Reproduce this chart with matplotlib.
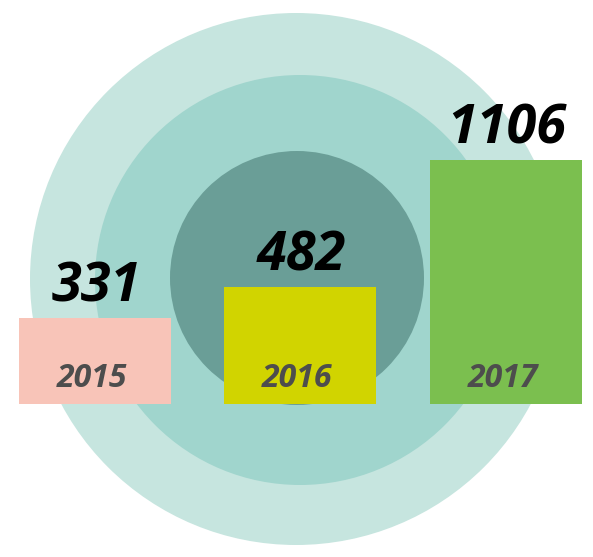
import matplotlib.pyplot as plt
from matplotlib.patches import Circle

years = ['2015', '2016', '2017']
values = [331, 482, 1106]
bar_colors = ['#f8c4b8', '#d1d400', '#7bbf4f']

# background rings (pixel coords)
rings = [(296, 279, 266, '#c6e5df'), (300, 280, 205, '#a0d5cd'), (297, 278, 127, '#6a9e97')]

fig = plt.figure(figsize=(5.93, 5.57), dpi=100)
bg = fig.add_axes([0, 0, 1, 1])
bg.set_xlim(0, 593)
bg.set_ylim(557, 0)
bg.set_aspect('equal')
bg.axis('off')
for cx, cy, r, c in rings:
    bg.add_patch(Circle((cx, cy), r, color=c, lw=0))

# bar axes: baseline at pixel row 404, bars offset below zero
scale = 0.203  # px per unit
base = -94
ax = fig.add_axes([0, (557 - 404) / 557, 1, 404 / 557])
ax.set_xlim(-0.4629, 2.4263)
ax.set_ylim(base, base + 404 / scale)
ax.axis('off')
ax.patch.set_alpha(0)

x = range(len(years))
ax.bar(x, [v - base for v in values], bottom=base, width=0.7406, color=bar_colors, lw=0)

font = dict(family=['Open Sans', 'DejaVu Sans'], weight='bold', style='italic')
for i, (y, v) in enumerate(zip(years, values)):
    ax.annotate(str(v), (i, v), xytext=(1, 12), textcoords='offset points',
                ha='center', va='baseline', fontsize=39, color='black', **font)
    ax.annotate(y, (i, base), xytext=(-2, 12), textcoords='offset points',
                ha='center', va='baseline', fontsize=23, color='#4d4d4d', **font)

fig.savefig('out.png', dpi=100)
